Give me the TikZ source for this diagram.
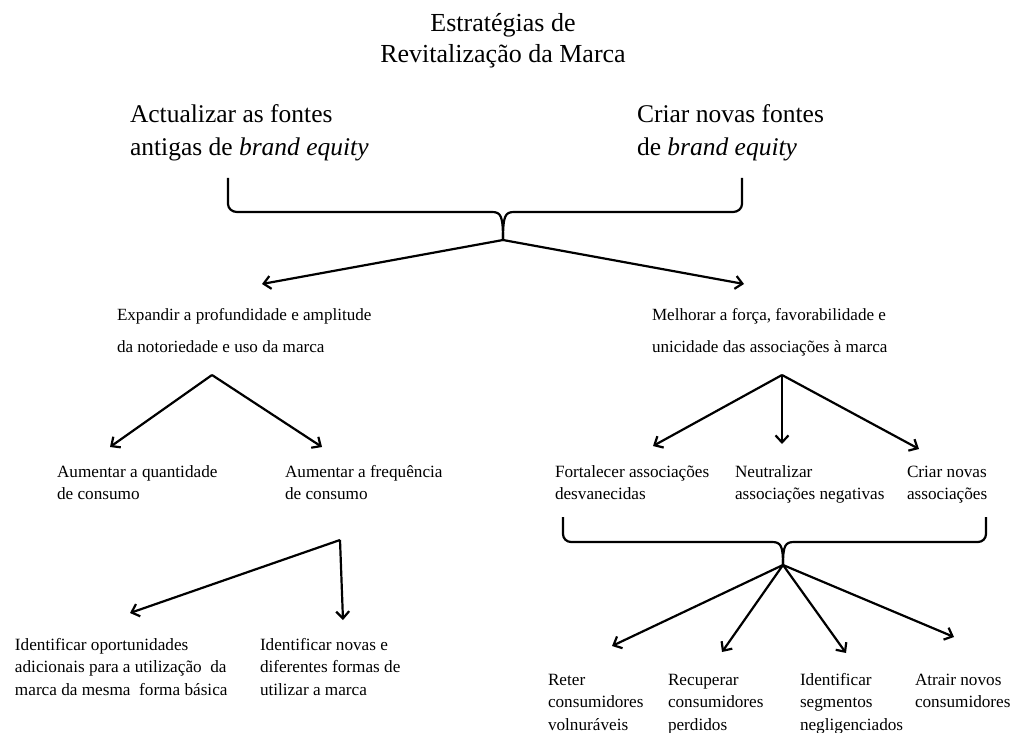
\documentclass[tikz,border=0pt]{standalone}
\usepackage{fontspec}
\setmainfont{Liberation Serif}
\usetikzlibrary{arrows.meta}
\begin{document}
\begin{tikzpicture}[x=1pt,y=-1pt,
  every node/.style={inner sep=0pt,outer sep=0pt},
  big/.style={font=\fontsize{25.5}{33}\selectfont,align=left,anchor=base west},
  mid/.style={font=\fontsize{17.1}{32}\selectfont,align=left,anchor=base west},
  small/.style={font=\fontsize{17.2}{22.5}\selectfont,align=left,anchor=base west},
  brace/.style={line width=2.2pt,line join=round},
  arr/.style={line width=2.2pt,-{Straight Barb[length=7pt,width=13pt,line width=2.2pt]}}]
\useasboundingbox (0,0) rectangle (1013,733);

% texts are placed by the baseline of their last line
% title and the two main sources
\node[font=\fontsize{26}{30.5}\selectfont,align=center,anchor=base] (title) at (503,62.5) {Estratégias de\\Revitalização da Marca};
\node[big] (old) at (130,156) {Actualizar as fontes\\antigas de \textit{brand equity}};
\node[big] (new) at (637,156) {Criar novas fontes\\de \textit{brand equity}};

% second level
\node[mid] (expand) at (117,352) {Expandir a profundidade e amplitude\\da notoriedade e uso da marca};
\node[mid] (improve) at (652,352) {Melhorar a força, favorabilidade e\\unicidade das associações à marca};

% third level
\node[small] (qty) at (57,499.5) {Aumentar a quantidade\\de consumo};
\node[small] (freq) at (285,499.5) {Aumentar a frequência\\de consumo};
\node[small] (fort) at (555,499.5) {Fortalecer associações\\desvanecidas};
\node[small] (neut) at (735,499.5) {Neutralizar\\associações negativas};
\node[small] (crnew) at (907,499.5) {Criar novas\\associações};

% fourth level
\node[small] (opp) at (15,695) {Identificar oportunidades\\adicionais para a utilização\ \ da\\marca da mesma\ \ forma básica};
\node[small] (ways) at (260,695) {Identificar novas e\\diferentes formas de\\utilizar a marca};
\node[small] (keep) at (548,730) {Reter\\consumidores\\volnuráveis};
\node[small] (recov) at (668,730) {Recuperar\\consumidores\\perdidos};
\node[small] (segm) at (800,730) {Identificar\\segmentos\\negligenciados};
\node[small] (attr) at (915,707.5) {Atrair novos\\consumidores};

% upper brace
\coordinate (b1) at (503,240);
\draw[brace] (228,178) -- (228,204) to[out=-90,in=180] (237,212) -- (492,212)
  .. controls (501,212) and (503,216) .. (b1);
\draw[brace] (742,178) -- (742,204) to[out=-90,in=0] (733,212) -- (514,212)
  .. controls (505,212) and (503,216) .. (b1);

% lower brace
\coordinate (b2) at (783,565);
\draw[brace] (563,517) -- (563,534) to[out=-90,in=180] (571,542) -- (772,542)
  .. controls (781,542) and (783,546) .. (b2);
\draw[brace] (986,517) -- (986,534) to[out=-90,in=0] (978,542) -- (794,542)
  .. controls (785,542) and (783,546) .. (b2);

% connector end points
\coordinate (expandIn) at (262,284);
\coordinate (improveIn) at (744,284);
\coordinate (expandOut) at (212,375);
\coordinate (qtyIn) at (110,447);
\coordinate (freqIn) at (322,447);
\coordinate (improveOut) at (782,375);
\coordinate (fortIn) at (653,446);
\coordinate (neutIn) at (782,444);
\coordinate (crnewIn) at (919,449);
\coordinate (freqOut) at (340,540);
\coordinate (oppIn) at (130,613);
\coordinate (waysIn) at (343,620);
\coordinate (keepIn) at (612,646);
\coordinate (recovIn) at (722,652);
\coordinate (segmIn) at (846,653);
\coordinate (attrIn) at (954,637);

% arrows
\draw[arr] (b1) -- (expandIn);
\draw[arr] (b1) -- (improveIn);
\draw[arr] (expandOut) -- (qtyIn);
\draw[arr] (expandOut) -- (freqIn);
\draw[arr] (improveOut) -- (fortIn);
\draw[arr] (improveOut) -- (neutIn);
\draw[arr] (improveOut) -- (crnewIn);
\draw[arr] (freqOut) -- (oppIn);
\draw[arr] (freqOut) -- (waysIn);
\draw[arr] (b2) -- (keepIn);
\draw[arr] (b2) -- (recovIn);
\draw[arr] (b2) -- (segmIn);
\draw[arr] (b2) -- (attrIn);
\end{tikzpicture}
\end{document}
